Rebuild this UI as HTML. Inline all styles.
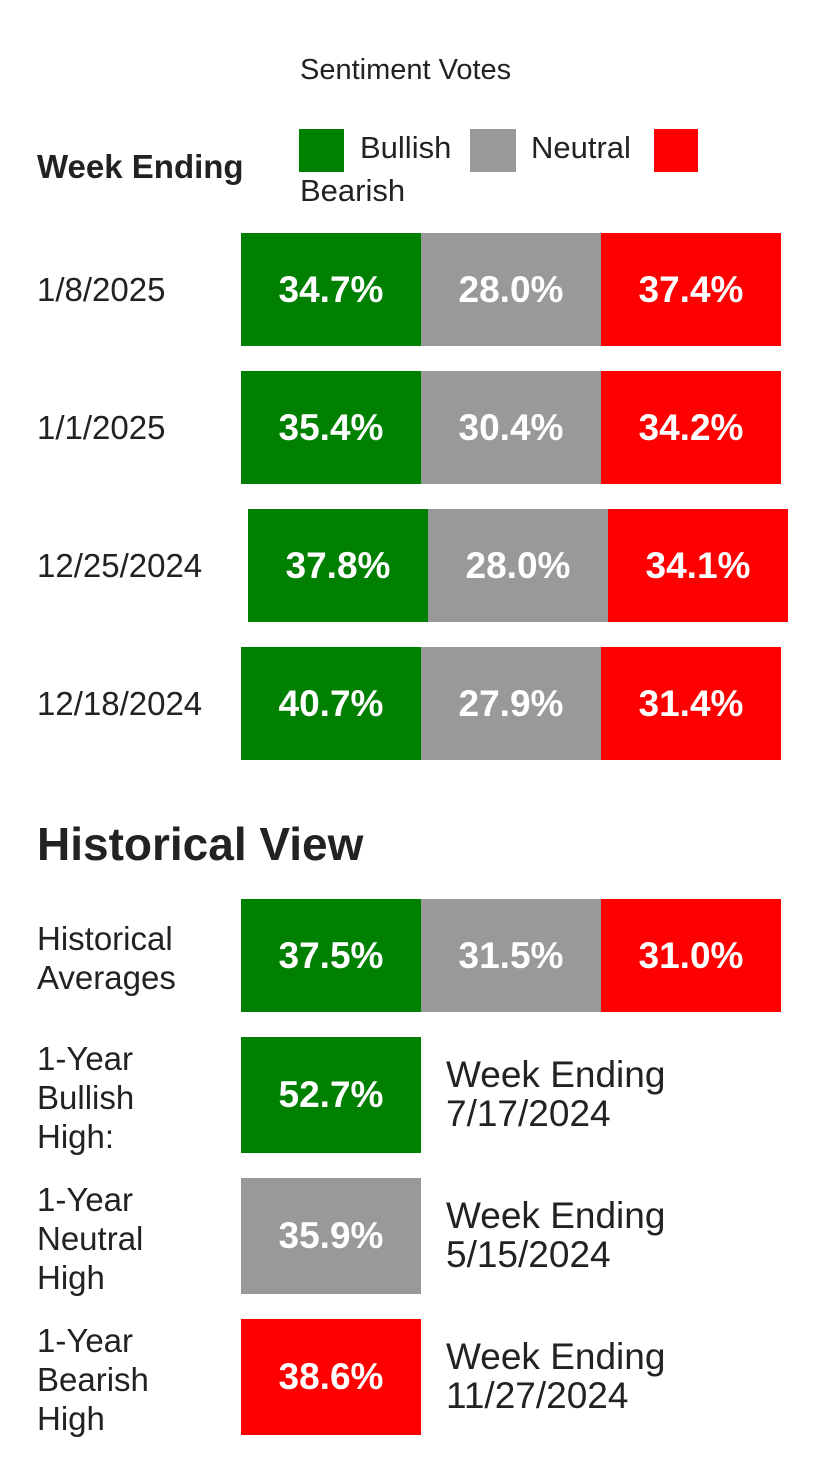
<!DOCTYPE html>
<html><head><meta charset="utf-8">
<style>
body{margin:0;width:822px;height:1476px;background:#fff;font-family:"Liberation Sans",sans-serif;color:#222;position:relative;overflow:hidden}
.a{position:absolute;white-space:nowrap}
.bar{position:absolute;color:#fff;font-weight:bold;font-size:37px;display:flex;align-items:center;justify-content:center}
.lbl{position:absolute;font-size:33px;line-height:39px}
</style></head><body>
<div class="a" style="left:300px;top:54px;font-size:29px">Sentiment Votes</div>
<div class="a" style="left:37px;top:148px;font-size:33px;font-weight:bold">Week Ending</div>
<div class="a" style="left:299px;top:129px;width:45px;height:43px;background:#008000"></div>
<div class="a" style="left:360px;top:130px;font-size:31px">Bullish</div>
<div class="a" style="left:470px;top:129px;width:46px;height:43px;background:#999"></div>
<div class="a" style="left:531px;top:130px;font-size:31px">Neutral</div>
<div class="a" style="left:654px;top:129px;width:44px;height:43px;background:#f00"></div>
<div class="a" style="left:300px;top:173px;font-size:31px">Bearish</div>
<div class="a" style="left:37px;top:817px;font-size:46px;font-weight:bold">Historical View</div>
<div id="root"></div>
<script>
const weeks=["1/8/2025","1/1/2025","12/25/2024","12/18/2024"];
const bullish=[34.7,35.4,37.8,40.7];
const neutral=[28.0,30.4,28.0,27.9];
const bearish=[37.4,34.2,34.1,31.4];
const histAvg=[37.5,31.5,31.0];
const highLabels=["1-Year Bullish High:","1-Year Neutral High","1-Year Bearish High"];
const highValues=[52.7,35.9,38.6];
const highDates=["7/17/2024","5/15/2024","11/27/2024"];
const colors=["#008000","#999999","#ff0000"];
const root=document.getElementById('root');
function bar(x,y,w,h,c,v,name){
  const d=document.createElement('div');d.className='bar';
  d.style.cssText=`left:${x}px;top:${y}px;width:${w}px;height:${h}px;background:${c}`;
  d.textContent=v.toFixed(1)+'%';
  
  
  root.appendChild(d);
}
function txt(x,y,s,name,size){
  const d=document.createElement('div');d.className='lbl';
  d.style.left=x+'px';d.style.top=y+'px';if(size)d.style.fontSize=size+'px';
  d.innerHTML=s;
  
  
  root.appendChild(d);
}
weeks.forEach((w,i)=>{
  const y=233+i*138, x0=(i===2?248:241);
  txt(37,y+37,w,'week-label-'+i);
  bar(x0,y,180,113,colors[0],bullish[i],'bullish-bar-'+i);
  bar(x0+180,y,180,113,colors[1],neutral[i],'neutral-bar-'+i);
  bar(x0+360,y,180,113,colors[2],bearish[i],'bearish-bar-'+i);
});
txt(37,919,'Historical<br>Averages','historical-averages-label');
histAvg.forEach((v,j)=>bar(241+j*180,899,180,113,colors[j],v,'historical-avg-bar-'+j));
highLabels.forEach((l,k)=>{
  const y=1037+k*141;
  txt(37,y+2,l.replace(/ /g,'<br>').replace('1-Year<br>','1-Year<br>'),'high-label-'+k);
  bar(241,y,180,116,colors[k],highValues[k],'high-bar-'+k);
  txt(446,y+18,'Week Ending<br>'+highDates[k],'high-date-'+k,37);
});
</script>
</body></html>
